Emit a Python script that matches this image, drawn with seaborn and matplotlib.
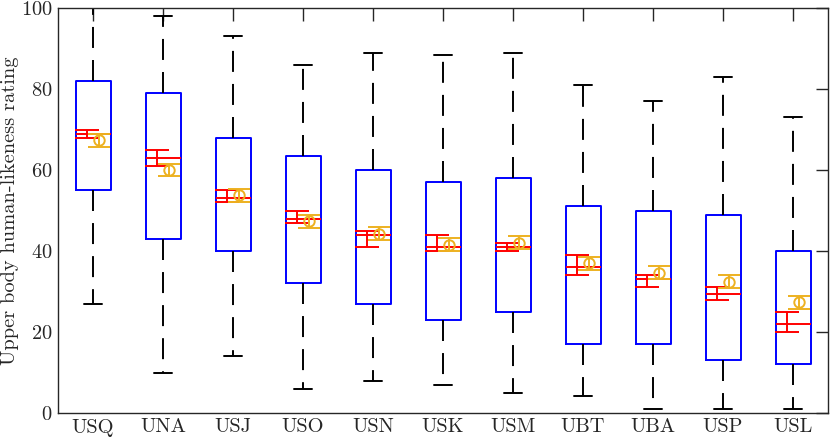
import numpy as np
import pandas as pd
import seaborn as sns
import matplotlib.pyplot as plt

sns.set_style("white")
plt.rcParams["font.family"] = "cmr10"
plt.rcParams["axes.formatter.use_mathtext"] = True

# box summary values
labels = ["USQ", "UNA", "USJ", "USO", "USN", "USK", "USM", "UBT", "UBA", "USP", "USL"]
whisk_lo = [27, 10, 14, 6, 8, 7, 5, 4.3, 1, 1, 1]
q1 = [55, 43, 40, 32, 27, 23, 25, 17, 17, 13, 12]
median = [69, 63, 53, 48, 44, 41, 41, 36, 33, 29.5, 22]
q3 = [82, 79, 68, 63.5, 60, 57, 58, 51, 50, 49, 40]
whisk_hi = [100, 98, 93, 86, 89, 88.5, 89, 81, 77, 83, 73]

# red interval around the median
ci_lo = [68, 61, 52, 47, 41, 40, 40, 34, 31, 28, 20]
ci_hi = [70, 65, 55, 50, 45, 44, 42, 39, 34, 31, 25]

# orange mean +/- error
mean = [67.4, 60, 53.8, 47.3, 44.3, 41.5, 42, 37, 34.6, 32.4, 27.3]
mean_err = [1.6, 1.6, 1.6, 1.6, 1.6, 1.6, 1.6, 1.6, 1.6, 1.6, 1.6]

# five points per group -> seaborn gets exactly these quartiles with whis=(0,100)
rows = []
for i, lab in enumerate(labels):
    for v in [whisk_lo[i], q1[i], median[i], q3[i], whisk_hi[i]]:
        rows.append({"group": lab, "rating": v})
df = pd.DataFrame(rows)

fig = plt.figure(figsize=(8.3, 4.43), dpi=100)
ax = fig.add_axes([58 / 830, 30 / 443, 770 / 830, 405 / 443])

sns.boxplot(data=df, x="group", y="rating", order=labels, whis=(0, 100),
            width=0.5, fill=False, showfliers=False, linewidth=1.4, ax=ax,
            boxprops=dict(color="blue"),
            medianprops=dict(color="red"),
            whiskerprops=dict(color="black", linestyle=(0, (10.8, 6.2))),
            capprops=dict(color="black"))

x = np.arange(len(labels))
med = np.array(median)
ax.errorbar(x - 0.085, med, yerr=[med - np.array(ci_lo), np.array(ci_hi) - med],
            fmt="none", ecolor="red", elinewidth=1.4, capsize=8.5, capthick=1.4, zorder=4)
ax.errorbar(x + 0.085, mean, yerr=mean_err, fmt="o", color="#EDB120", mfc="none",
            ms=7.5, mew=1.4, elinewidth=1.4, capsize=8, capthick=1.4, zorder=4)

ax.set_xlim(-0.5, len(labels) - 0.5)
ax.set_ylim(0, 100)
ax.set_yticks([0, 20, 40, 60, 80, 100])
ax.set_xlabel("")
ax.set_ylabel("Upper body human-likeness rating", fontsize=14.7, labelpad=1)
ax.tick_params(direction="in", length=9, width=1, top=True, right=True,
               labelsize=14.7, colors="#262626", pad=4)
for s in ax.spines.values():
    s.set_color("#262626")
    s.set_linewidth(1)

fig.savefig("out.png", dpi=100)
